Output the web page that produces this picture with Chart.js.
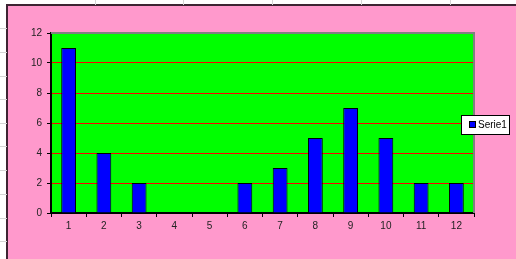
<!DOCTYPE html>
<html lang="en">
<head>
  <meta charset="UTF-8" />
  <title>Serie1</title>
  <script src="https://cdn.jsdelivr.net/npm/chart.js"></script>
  <style>
    body {
      margin: 0;
      background: #ffffff;
      width: 516px;
      height: 259px;
      overflow: hidden;
      position: relative;
      font-family: 'Liberation Sans', Arial, sans-serif;
    }
    .cell-v, .cell-h {
      position: absolute;
      background: #d4d4d4;
    }
    .cell-v { top: 0; width: 1px; height: 5px; }
    .cell-h { left: 0; width: 7px; height: 1px; }
    .chart-box {
      position: absolute;
      left: 6px;
      top: 4px;
      width: 508px;
      height: 253px;
      border-left: 2px solid #3d2433;
      border-top: 2px solid #3d2433;
      background: #ff99cc;
    }
    canvas { display: block; }
  </style>
</head>
<body>
  <div class="chart-box">
    <canvas id="chart" width="508" height="253"></canvas>
  </div>

  <script>
    const categories = ['1', '2', '3', '4', '5', '6', '7', '8', '9', '10', '11', '12'];
    const serie1 = [11, 4, 2, 0, 0, 2, 3, 5, 7, 5, 2, 2];
    const yTicks = [0, 2, 4, 6, 8, 10, 12];

    // spreadsheet cell lines peeking out around the chart
    [95, 183, 272, 361, 450].forEach(x => {
      const d = document.createElement('div');
      d.className = 'cell-v';
      d.style.left = x + 'px';
      document.body.appendChild(d);
    });
    [28, 52, 76, 99, 123, 146, 170, 194, 218, 241].forEach(y => {
      const d = document.createElement('div');
      d.className = 'cell-h';
      d.style.top = y + 'px';
      document.body.appendChild(d);
    });

    const plotBackground = {
      id: 'plotBackground',
      beforeDraw(chart) {
        const { ctx, chartArea: a } = chart;
        ctx.save();
        ctx.fillStyle = '#00ff00';
        ctx.fillRect(a.left, a.top, a.right - a.left, a.bottom - a.top);
        ctx.restore();
      },
      afterDatasetsDraw(chart) {
        // grey frame on the top and right of the plot area
        const { ctx, chartArea: a } = chart;
        ctx.save();
        ctx.strokeStyle = '#808080';
        ctx.lineWidth = 2;
        ctx.beginPath();
        ctx.moveTo(a.left, a.top);
        ctx.lineTo(a.right, a.top);
        ctx.lineTo(a.right, a.bottom);
        ctx.stroke();
        ctx.restore();
      }
    };

    const boxLegend = {
      id: 'boxLegend',
      afterDraw(chart) {
        const { ctx } = chart;
        const ds = chart.data.datasets[0];
        const x = 453, y = 109, w = 49, h = 20;
        ctx.save();
        ctx.fillStyle = '#ffffff';
        ctx.fillRect(x, y, w, h);
        ctx.strokeStyle = '#000000';
        ctx.lineWidth = 1;
        ctx.strokeRect(x + 0.5, y + 0.5, w - 1, h - 1);
        ctx.fillStyle = ds.backgroundColor;
        ctx.fillRect(x + 9, y + 7, 5, 5);
        ctx.strokeRect(x + 8.5, y + 6.5, 6, 6);
        ctx.fillStyle = '#000000';
        ctx.font = "10px 'Liberation Sans', Arial, sans-serif";
        ctx.textBaseline = 'middle';
        ctx.fillText(ds.label, x + 17, y + h / 2 + 0.5);
        ctx.restore();
      }
    };

    const tickFont = { family: "'Liberation Sans', Arial, sans-serif", size: 10 };

    new Chart(document.getElementById('chart').getContext('2d'), {
      type: 'bar',
      data: {
        labels: categories,
        datasets: [{
          label: 'Serie1',
          data: serie1,
          backgroundColor: '#0000ff',
          borderColor: '#000000',
          borderWidth: 1,
          barPercentage: 0.42,
          categoryPercentage: 1
        }]
      },
      options: {
        responsive: false,
        animation: false,
        devicePixelRatio: 1,
        layout: { padding: { left: 0, top: 27, right: 42, bottom: 26 } },
        plugins: {
          legend: { display: false },
          tooltip: { enabled: false }
        },
        scales: {
          x: {
            afterFit: s => { s.height = 20; },
            grid: {
              drawOnChartArea: false,
              drawTicks: true,
              tickLength: 4,
              tickColor: '#000000'
            },
            border: { color: '#000000', width: 2 },
            ticks: { color: '#222222', font: tickFont, padding: 3, maxRotation: 0 }
          },
          y: {
            min: 0,
            max: 12,
            afterFit: s => { s.width = 43; },
            afterBuildTicks: s => { s.ticks = yTicks.map(v => ({ value: v })); },
            grid: {
              color: '#ff0000',
              lineWidth: 1,
              tickLength: 4,
              tickColor: '#000000'
            },
            border: { color: '#000000', width: 2 },
            ticks: { color: '#222222', font: tickFont, padding: 5 }
          }
        }
      },
      plugins: [plotBackground, boxLegend]
    });
  </script>
</body>
</html>
